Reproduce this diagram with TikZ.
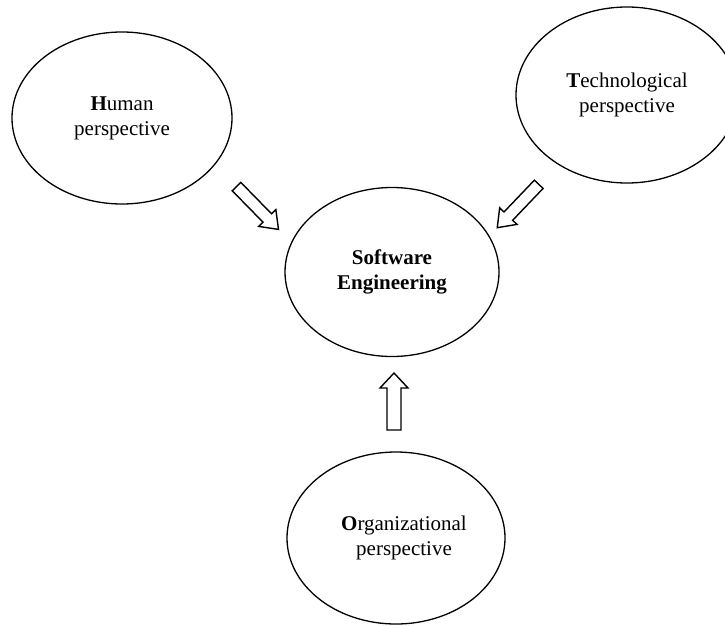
\documentclass[tikz,border=0pt]{standalone}
\usepackage{fontspec}
\setmainfont{Liberation Serif}
\usetikzlibrary{shapes.geometric}
\begin{document}
\begin{tikzpicture}[x=1pt,y=-1pt,
  oval/.style={draw, ellipse, line width=1.3pt, inner sep=0pt, align=center,
    font=\fontsize{21}{25}\selectfont},
  barrow/.pic={\draw[line width=1.4pt, line join=miter]
    (-30,-6) -- (14,-6) -- (14,-12) -- (30,0) -- (14,12) -- (14,6) -- (-30,6) -- cycle;},
  uarrow/.pic={\draw[line width=1.4pt, line join=miter]
    (-28.5,-7) -- (13.5,-7) -- (13.5,-14) -- (28.5,0) -- (13.5,14) -- (13.5,7) -- (-28.5,7) -- cycle;}
]
\useasboundingbox (0,0) rectangle (725,626);
\node[oval, minimum width=220pt, minimum height=172pt] (human) at (122,118)
  {\textbf{H}uman\\perspective};
\node[oval, minimum width=222pt, minimum height=176pt] (tech) at (627,95)
  {\textbf{T}echnological\\perspective};
\node[oval, minimum width=214pt, minimum height=169pt] (se) at (392,272)
  {\textbf{Software}\\\textbf{Engineering}};
\node[oval, minimum width=218pt, minimum height=172pt] (org) at (396,538)
  {\hspace*{16pt}\textbf{O}rganizational\\\hspace*{16pt}perspective};
\coordinate (a1) at (257.5,208);
\coordinate (a2) at (518,206);
\coordinate (a3) at (394,401.5);
\pic[rotate=-45.6] at (a1) {barrow};
\pic[rotate=226.3] at (a2) {barrow};
\pic[rotate=90] at (a3) {uarrow};
\end{tikzpicture}
\end{document}
